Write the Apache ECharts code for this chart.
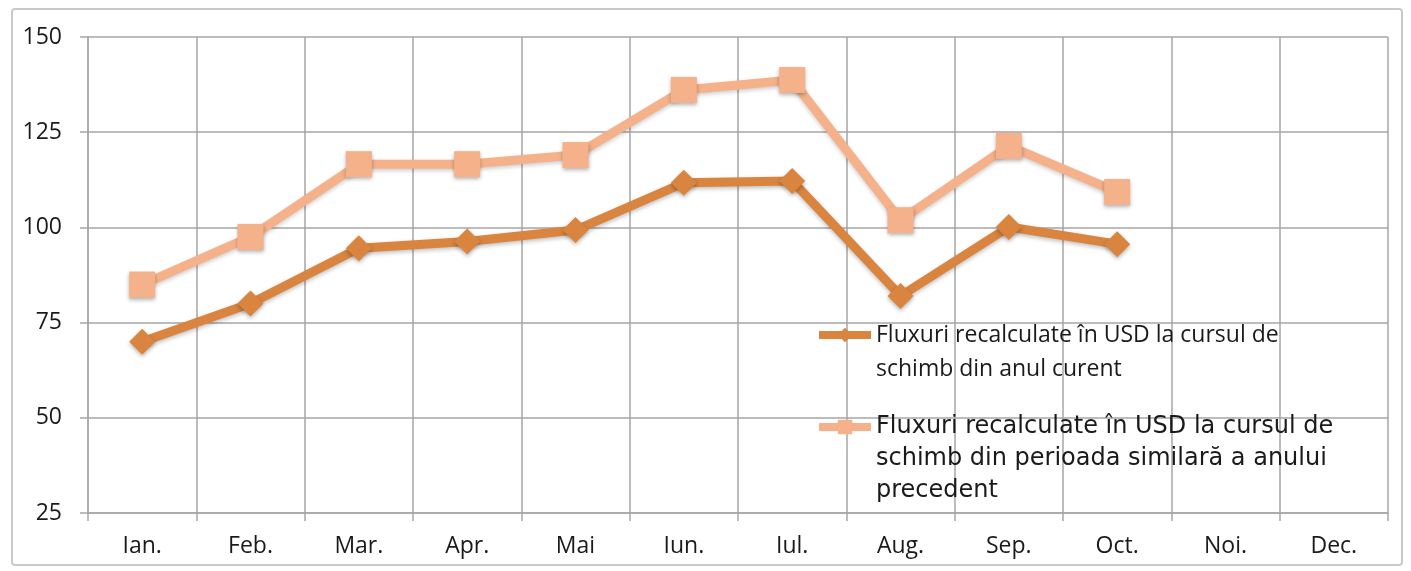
<!DOCTYPE html>
<html>
<head>
<meta charset="utf-8">
<script src="https://cdn.jsdelivr.net/npm/echarts@6/dist/echarts.min.js"></script>
<style>
  html, body { margin: 0; padding: 0; background: #ffffff; }
  #frame {
    position: absolute; left: 11px; top: 8px; width: 1392px; height: 558px;
    border: 2px solid #c9c9c9; border-radius: 4px; box-sizing: border-box;
  }
  #chart { position: absolute; left: 0; top: 0; width: 1411px; height: 571px; }
</style>
</head>
<body>
<div id="frame"></div>
<div id="chart"></div>
<script>
var months = ["Ian.", "Feb.", "Mar.", "Apr.", "Mai", "Iun.", "Iul.", "Aug.", "Sep.", "Oct.", "Noi.", "Dec."];
var currentName = "Fluxuri recalculate în USD la cursul de\nschimb din anul curent";
var previousName = "Fluxuri recalculate în USD la cursul de\nschimb din perioada similară a anului\nprecedent";
var currentRate = [70, 80, 94.5, 96.3, 99.3, 111.7, 112.2, 82, 100.1, 95.6, null, null];
var previousRate = [85, 97.5, 116.6, 116.6, 119, 136.1, 138.7, 101.9, 121.4, 109.3, null, null];

var darkOrange = "#d9843f";
var lightOrange = "#f5b189";
var gridColor = "#a6a6a6";

var chart = echarts.init(document.getElementById("chart"));

// empty lines put in front so the legend icon sits on the first text line
function padTop(name) {
  var n = name.split("\n").length;
  return new Array(n).join("\n") + name;
}

var option = {
  backgroundColor: "transparent",
  animation: false,
  grid: { left: 88, right: 23, top: 37, bottom: 58 },
  legend: [
    {
      left: 815, top: 284, padding: 0,
      itemWidth: 52, itemHeight: 18, itemGap: 10,
      lineStyle: { width: 8 },
      formatter: padTop,
      data: [{
        name: currentName,
        textStyle: { fontFamily: "Open Sans", fontSize: 23, lineHeight: 34, color: "#1a1a1a" }
      }]
    },
    {
      left: 815, top: 347, padding: 0,
      itemWidth: 52, itemHeight: 18, itemGap: 10,
      lineStyle: { width: 8 },
      formatter: padTop,
      data: [{
        name: previousName,
        textStyle: { fontFamily: "DejaVu Sans", fontSize: 24, lineHeight: 32, color: "#1a1a1a" }
      }]
    }
  ],
  xAxis: {
    type: "category",
    data: months,
    boundaryGap: true,
    axisLine: { lineStyle: { color: gridColor, width: 1.5 } },
    axisTick: { show: true, length: 8, lineStyle: { color: gridColor, width: 1.5 } },
    axisLabel: { fontFamily: "Open Sans", fontSize: 23, color: "#1a1a1a", margin: 22 },
    splitLine: { show: true, lineStyle: { color: gridColor, width: 1.5 } }
  },
  yAxis: {
    type: "value",
    min: 25, max: 150, interval: 25,
    axisLine: { show: true, lineStyle: { color: gridColor, width: 1.5 } },
    axisTick: { show: true, length: 8, lineStyle: { color: gridColor, width: 1.5 } },
    axisLabel: { fontFamily: "Open Sans", fontSize: 23, color: "#1a1a1a", margin: 26 },
    splitLine: { show: true, lineStyle: { color: gridColor, width: 1.5 } }
  },
  series: [
    {
      name: currentName,
      type: "line",
      data: currentRate,
      symbol: "diamond",
      symbolSize: 26,
      color: darkOrange,
      lineStyle: { width: 9, color: darkOrange, shadowColor: "rgba(0,0,0,0.25)", shadowBlur: 4, shadowOffsetY: 2 },
      itemStyle: { color: darkOrange, borderWidth: 0, shadowColor: "rgba(0,0,0,0.3)", shadowBlur: 4, shadowOffsetY: 2 }
    },
    {
      name: previousName,
      type: "line",
      data: previousRate,
      symbol: "rect",
      symbolSize: 26,
      color: lightOrange,
      lineStyle: { width: 9, color: lightOrange, shadowColor: "rgba(0,0,0,0.2)", shadowBlur: 4, shadowOffsetY: 2 },
      itemStyle: { color: lightOrange, borderWidth: 0, shadowColor: "rgba(0,0,0,0.3)", shadowBlur: 4, shadowOffsetY: 2 }
    }
  ]
};

chart.setOption(option);
</script>
</body>
</html>
